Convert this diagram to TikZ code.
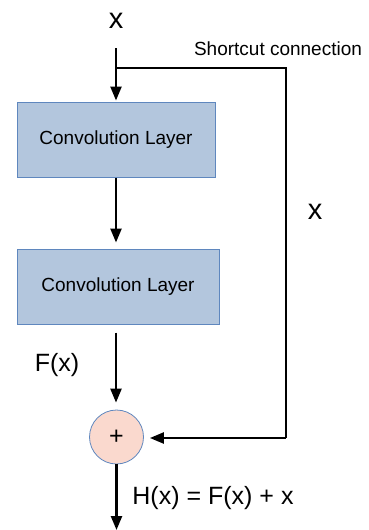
\documentclass[tikz,border=0pt]{standalone}
\usepackage{fontspec}
\setmainfont{Liberation Sans}
\usetikzlibrary{arrows.meta}
\definecolor{boxfill}{HTML}{B3C6DD}
\definecolor{boxdraw}{HTML}{5F87BE}
\definecolor{circfill}{HTML}{FAD9CE}
\begin{document}
\begin{tikzpicture}[x=1pt,y=-1pt,
  line/.style={line width=2.4pt},
  arr/.style={line width=2.4pt,-{Triangle[length=14pt,width=11pt]}},
  convbox/.style={draw=boxdraw,fill=boxfill,line width=1pt,minimum height=75pt,inner sep=0pt,font=\fontsize{19}{23}\selectfont},
  bigx/.style={inner sep=0pt,font=\fontsize{29}{34}\selectfont},
  lbl/.style={inner sep=0pt,font=\fontsize{25}{30}\selectfont}]
\useasboundingbox (0,0) rectangle (368,530);
% labels
\node[bigx] (xin) at (116,21) {x};
\node[bigx] (xside) at (315,212) {x};
\node[inner sep=0pt,font=\fontsize{19}{23}\selectfont] (sc) at (278,49) {Shortcut connection};
\node[lbl] (fx) at (57,365) {F(x)};
\node[lbl] (hx) at (213,498) {H(x) = F(x) + x};
% boxes
\node[convbox,minimum width=198pt] (b1) at (116,139.5) {Convolution Layer};
\node[convbox,minimum width=202pt] (b2) at (118,286.5) {Convolution Layer};
\node[circle,draw=boxdraw,fill=circfill,line width=0.8pt,minimum size=54pt,inner sep=0pt,font=\fontsize{25}{30}\selectfont] (add) at (116.5,437) {+};
% coordinates
\coordinate (top) at (116,48);
\coordinate (br) at (116,68);
\coordinate (cr) at (286,68);
\coordinate (cb) at (286,438);
\coordinate (out) at (116.5,530);
% connectors
\draw[arr,shorten >=1pt] (top) -- (b1.north -| top);
\draw[line] (br) -- (cr) -- (cb);
\draw[arr,shorten >=6pt] (b1.south -| top) -- (b2.north -| top);
\draw[arr,shorten <=8pt,shorten >=7pt] (b2.south -| top) -- (add.north -| top);
\draw[arr,shorten >=6pt] (cb) -- (add.east |- cb);
\draw[arr] (add.south) -- (out);
\end{tikzpicture}
\end{document}
